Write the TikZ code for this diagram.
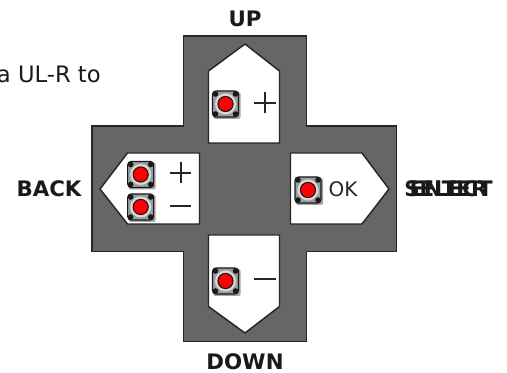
\documentclass[tikz,border=0pt]{standalone}
\usepackage{fontspec}
\setmainfont{DejaVu Sans}
\tikzset{
  px/.style={x=0.75pt,y=-0.75pt},
  cross/.style={draw=black!85,line width=1.1pt,fill=black!60,line join=miter},
  pocket/.style={draw=black!85,line width=1.1pt,fill=white},
  caption/.style={font=\bfseries\fontsize{16}{18}\selectfont,inner sep=0pt,text=black!90},
  body/.style={font=\fontsize{17}{20}\selectfont,inner sep=0pt,anchor=base east,text=black!90},
  glyph/.style={font=\fontsize{15}{17}\selectfont,inner sep=0pt,text=black!85},
  mark line/.style={draw=black!85,line width=1.5pt},
}
\newcommand{\tact}[2]{%
  \begin{scope}[shift={(#1,#2)}]
    \fill[black!35,rounded corners=1.5pt] (-12,-12) rectangle (15,15);
    \draw[black!90,fill=black!38,line width=0.8pt,rounded corners=2.5pt] (-13,-13) rectangle (13,13);
    \foreach \a/\b in {-10/-10,10/-10,-10/10,10/10}{\fill[black!90] (\a,\b) circle (2.8);}
    \fill[black!15] (0,0) circle (10.5);
    \draw[black!90,fill=red,line width=0.8pt] (0,0) circle (7.6);
  \end{scope}}
\begin{document}
\begin{tikzpicture}[px]
\useasboundingbox (0,0) rectangle (507,373);
\fill[white] (0,0) rectangle (507,373);
\draw[cross] (183.5,36) -- (306.5,36) -- (306.5,126) -- (396.5,126) -- (396.5,251.5) -- (306.5,251.5) -- (306.5,341.5) -- (183.5,341.5) -- (183.5,251.5) -- (92,251.5) -- (92,126) -- (183.5,126) -- cycle;
\draw[pocket] (245,44) -- (279.5,71) -- (279.5,143) -- (208.5,143) -- (208.5,71) -- cycle;
\draw[pocket] (245,333) -- (279.5,306.5) -- (279.5,235) -- (208.5,235) -- (208.5,306.5) -- cycle;
\draw[pocket] (100,189) -- (127.5,153) -- (199.5,153) -- (199.5,224) -- (127.5,224) -- cycle;
\draw[pocket] (389,189) -- (362,153) -- (290.5,153) -- (290.5,224) -- (362,224) -- cycle;
\tact{225.5}{104}
\tact{225.5}{281}
\tact{140.7}{174.5}
\tact{140.7}{207}
\tact{308}{190}
\coordinate (ua) at (254,103); \coordinate (ub) at (275.5,103);
\coordinate (uc) at (264.8,92); \coordinate (ud) at (264.8,113.5);
\draw[mark line] (ua) -- (ub) (uc) -- (ud);
\coordinate (da) at (254,279.5); \coordinate (db) at (275.5,279.5);
\draw[mark line] (da) -- (db);
\coordinate (la) at (170,172.7); \coordinate (lb) at (191,172.7);
\coordinate (lc) at (180.5,162.5); \coordinate (ld) at (180.5,183.5);
\draw[mark line] (la) -- (lb) (lc) -- (ld);
\coordinate (ma) at (170,206); \coordinate (mb) at (191,206);
\draw[mark line] (ma) -- (mb);
\node[glyph] (ok) at (343,189.5) {OK};
\node[caption] (up) at (245,19) {UP};
\node[caption] (down) at (245,361.5) {DOWN};
\node[caption] (back) at (49,188.5) {BACK};
\node[caption] (sel) at (448.5,188.5) {SELECT};
\node[caption] (ent) at (448.5,188.5) {ENTER};
\node[body] (txt) at (101,82.3) {a UL-R to};
\end{tikzpicture}
\end{document}
